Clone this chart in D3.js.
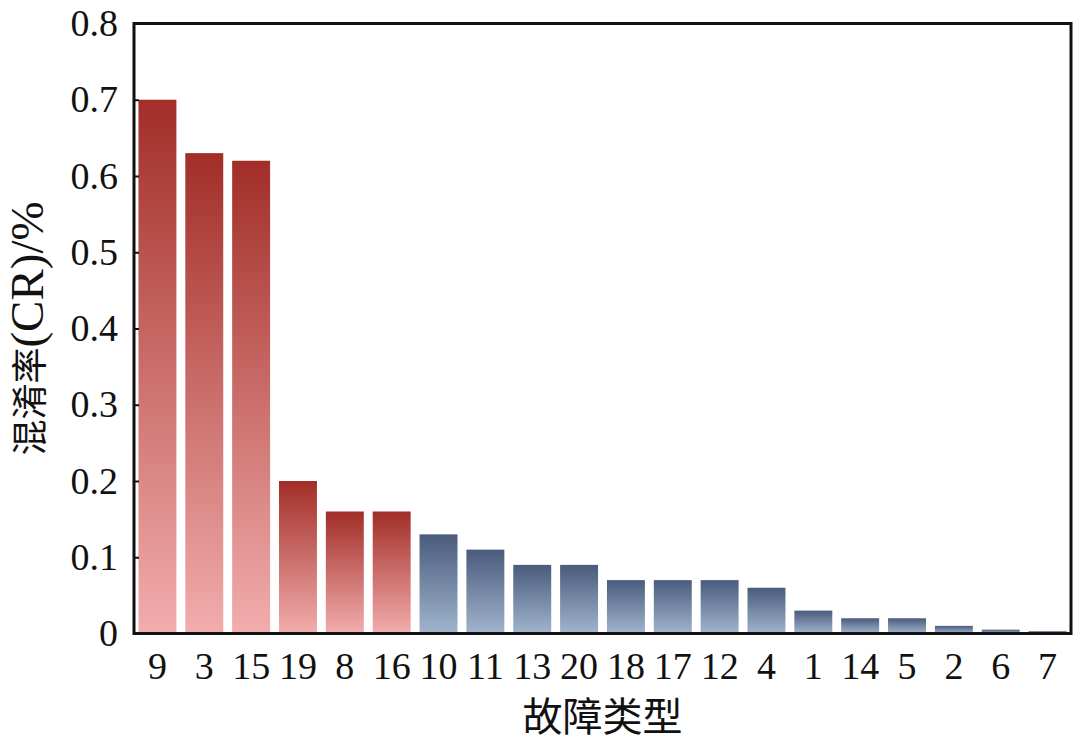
<!DOCTYPE html>
<html><head><meta charset="utf-8">
<script src="https://cdn.jsdelivr.net/npm/d3@7"></script>
<style>body{margin:0;background:#fff}svg{display:block}</style>
</head><body>
<svg id="c" width="1080" height="742"></svg>
<script>
const categories = ["9","3","15","19","8","16","10","11","13","20","18","17","12","4","1","14","5","2","6","7"];
const values = [0.70,0.63,0.62,0.20,0.16,0.16,0.13,0.11,0.09,0.09,0.07,0.07,0.07,0.06,0.03,0.02,0.02,0.01,0.005,0.003];
const groups = ["red","red","red","red","red","red","blue","blue","blue","blue","blue","blue","blue","blue","blue","blue","blue","blue","blue","blue"];
const yTicks = [0,0.1,0.2,0.3,0.4,0.5,0.6,0.7,0.8];
const yTickLabels = ["0","0.1","0.2","0.3","0.4","0.5","0.6","0.7","0.8"];
const xTitle = "故障类型";
const yTitleCJK = "混淆率";
const yTitleLatin = "(CR)/%";

const svg = d3.select("#c");
const m = {l:134, r:1071, t:23.5, b:633.5};
const font = "'Liberation Serif','Times New Roman','Noto Sans CJK SC',serif";

const x = d3.scaleBand().domain(categories).range([m.l, m.r]).paddingInner(0.19).paddingOuter(0.095);
const y = d3.scaleLinear().domain([0,0.8]).range([m.b, m.t]);

const defs = svg.append("defs");
const grads = {red:["#a22e28","#f2adad"], blue:["#4a5b7c","#a0b5cd"]};
Object.entries(grads).forEach(([k,c])=>{
  const g = defs.append("linearGradient").attr("id","g-"+k).attr("x1",0).attr("y1",0).attr("x2",0).attr("y2",1);
  g.append("stop").attr("offset","0%").attr("stop-color",c[0]);
  g.append("stop").attr("offset","100%").attr("stop-color",c[1]);
});

svg.append("g").selectAll("rect").data(categories).join("rect")
  .attr("x", d=>x(d))
  .attr("y", (d,i)=>y(values[i]))
  .attr("width", x.bandwidth())
  .attr("height", (d,i)=>y(0)-y(values[i]))
  .attr("fill", (d,i)=>`url(#g-${groups[i]})`);

// frame
svg.append("rect").attr("x",m.l).attr("y",m.t).attr("width",m.r-m.l).attr("height",m.b-m.t)
  .attr("fill","none").attr("stroke","#111").attr("stroke-width",3);

// y axis
const yAxis = d3.axisLeft(y).tickValues(yTicks).tickFormat((d,i)=>yTickLabels[i]).tickSizeInner(-5).tickSizeOuter(0).tickPadding(16);
const ga = svg.append("g").attr("transform",`translate(${m.l},0)`).call(yAxis);
ga.select(".domain").remove();
ga.selectAll("line").attr("stroke","#111").attr("stroke-width",2);
ga.selectAll("text").attr("font-family",font).attr("font-size",38).attr("fill","#111");

// x axis
const xAxis = d3.axisBottom(x).tickSize(0).tickPadding(10);
const gx = svg.append("g").attr("transform",`translate(0,${m.b})`).call(xAxis);
gx.select(".domain").remove();
gx.selectAll("text").attr("font-family",font).attr("font-size",38).attr("fill","#111").attr("dy","0.93em");

svg.append("text").attr("x",(m.l+m.r)/2).attr("y",731).attr("text-anchor","middle")
  .attr("font-family",font).attr("font-size",40).attr("fill","#111").text(xTitle);
const yt = svg.append("text").attr("transform",`translate(43,${(m.t+m.b)/2}) rotate(-90)`).attr("text-anchor","middle")
  .attr("font-family",font).attr("fill","#111");
yt.append("tspan").attr("font-size",36).text(yTitleCJK);
yt.append("tspan").attr("font-size",47).text(yTitleLatin);
</script>
</body></html>
